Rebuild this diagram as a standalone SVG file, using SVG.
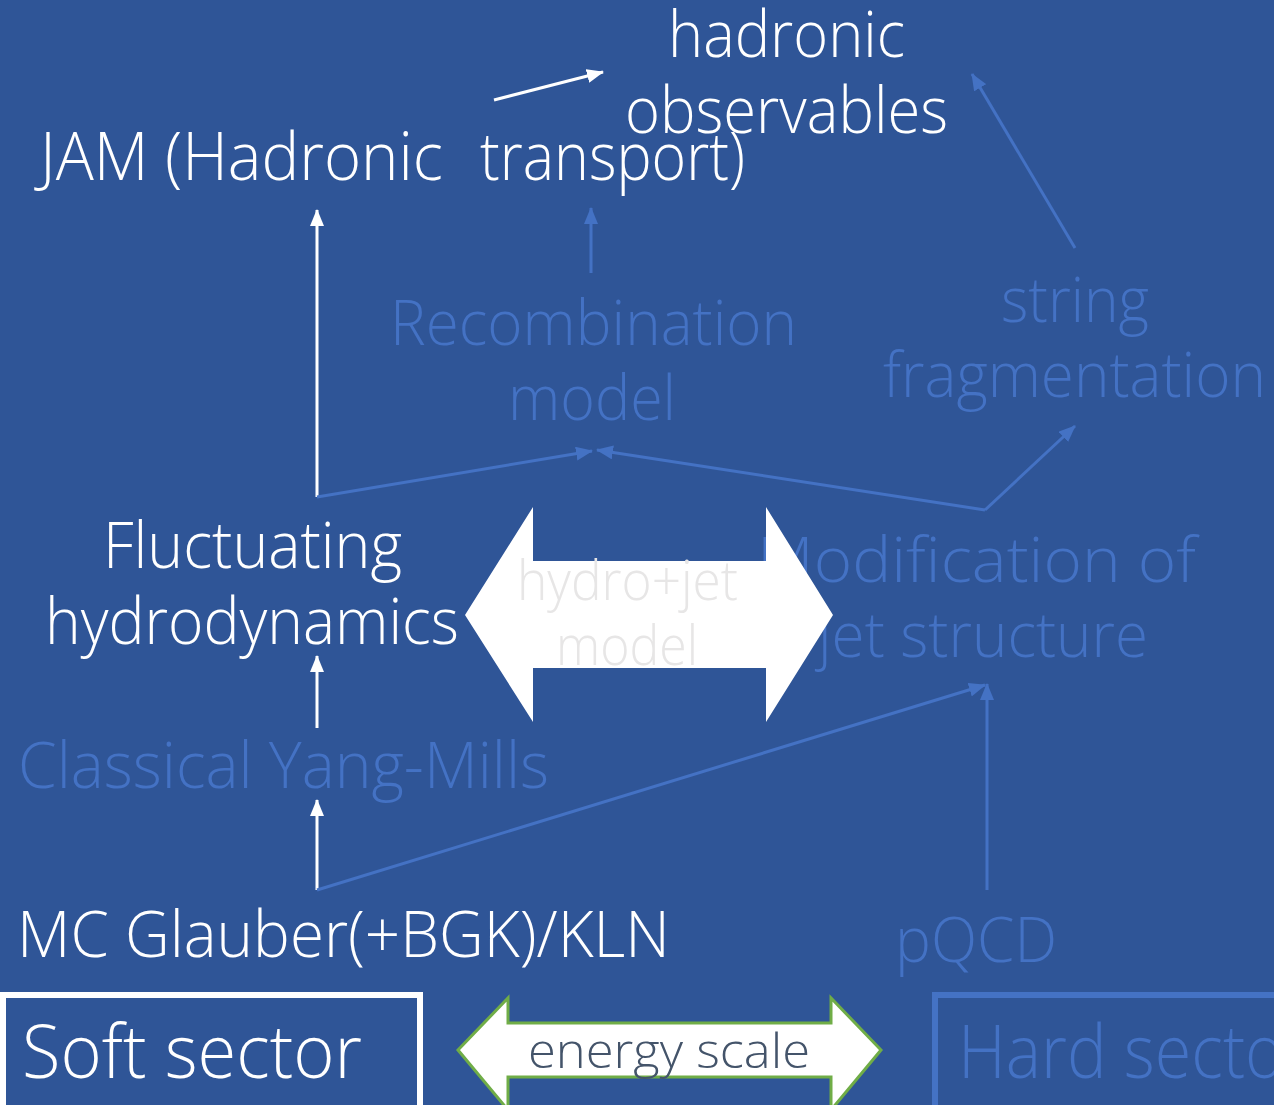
<svg xmlns="http://www.w3.org/2000/svg" width="1274" height="1105" viewBox="0 0 1274 1105">
<style>
text{font-family:"Open Sans","Segoe UI","Liberation Sans",sans-serif;font-weight:300;}
.w{fill:#FFFFFF;}
.b{fill:#4472C4;}
.cw{stroke:#FFFFFF;stroke-width:3;fill:none;}
.cb{stroke:#4472C4;stroke-width:3;fill:none;}
</style>
<defs>
<marker id="aw" markerUnits="userSpaceOnUse" markerWidth="18" markerHeight="14" refX="16" refY="7" orient="auto"><path d="M0,0 L17,7 L0,14 z" fill="#FFFFFF"/></marker>
<marker id="ab" markerUnits="userSpaceOnUse" markerWidth="18" markerHeight="14" refX="16" refY="7" orient="auto"><path d="M0,0 L17,7 L0,14 z" fill="#4472C4"/></marker>
</defs>
<rect x="0" y="0" width="1274" height="1105" fill="#2F5597"/>

<g id="hadronic-observables">
<text class="w" x="668" y="57" font-size="64" textLength="237" lengthAdjust="spacingAndGlyphs">hadronic</text>
<text class="w" x="625" y="133" font-size="64" textLength="323" lengthAdjust="spacingAndGlyphs">observables</text>
</g>
<g id="jam">
<text class="w" y="180" font-size="66"><tspan x="40" textLength="403" lengthAdjust="spacingAndGlyphs">JAM (Hadronic</tspan><tspan x="480" textLength="265" lengthAdjust="spacingAndGlyphs">transport)</tspan></text>
</g>
<g id="recombination">
<text class="b" x="390" y="345" font-size="62" textLength="407" lengthAdjust="spacingAndGlyphs">Recombination</text>
<text class="b" x="508" y="420" font-size="62" textLength="168" lengthAdjust="spacingAndGlyphs">model</text>
</g>
<g id="string-fragmentation">
<text class="b" x="1001" y="322" font-size="62" textLength="148" lengthAdjust="spacingAndGlyphs">string</text>
<text class="b" x="883" y="397" font-size="62" textLength="383" lengthAdjust="spacingAndGlyphs">fragmentation</text>
</g>
<g id="fluctuating-hydro">
<text class="w" x="103" y="568" font-size="64" textLength="299" lengthAdjust="spacingAndGlyphs">Fluctuating</text>
<text class="w" x="45" y="644" font-size="64" textLength="414" lengthAdjust="spacingAndGlyphs">hydrodynamics</text>
</g>
<g id="jet-modification">
<text class="b" x="757" y="582" font-size="62" textLength="439" lengthAdjust="spacingAndGlyphs">Modification of</text>
<text class="b" x="818" y="657" font-size="62" textLength="330" lengthAdjust="spacingAndGlyphs">jet structure</text>
</g>
<g id="hydro-jet-model">
<path d="M465,615 L533,507 L533,561 L766,561 L766,507 L833,615 L766,722 L766,668 L533,668 L533,722 Z" fill="#FFFFFF"/>
<text x="517" y="600" font-size="56" fill="#E7E6E6" textLength="221" lengthAdjust="spacingAndGlyphs">hydro+jet</text>
<text x="556" y="665" font-size="56" fill="#E7E6E6" textLength="142" lengthAdjust="spacingAndGlyphs">model</text>
</g>
<g id="classical-yang-mills">
<text class="b" x="18" y="788" font-size="64" textLength="531" lengthAdjust="spacingAndGlyphs">Classical Yang-Mills</text>
</g>
<g id="mc-glauber">
<text class="w" x="17" y="957" font-size="64" textLength="653" lengthAdjust="spacingAndGlyphs">MC Glauber(+BGK)/KLN</text>
</g>
<g id="pqcd">
<text class="b" x="895" y="962" font-size="62" textLength="162" lengthAdjust="spacingAndGlyphs">pQCD</text>
</g>
<g id="soft-sector">
<rect x="3" y="995" width="417" height="125" fill="none" stroke="#FFFFFF" stroke-width="6"/>
<text class="w" x="22" y="1078" font-size="74" textLength="340" lengthAdjust="spacingAndGlyphs">Soft sector</text>
</g>
<g id="hard-sector">
<rect x="935" y="995" width="400" height="125" fill="none" stroke="#4472C4" stroke-width="6"/>
<text class="b" x="958" y="1078" font-size="74" textLength="352" lengthAdjust="spacingAndGlyphs">Hard sector</text>
</g>
<g id="energy-scale">
<path d="M458,1050 L508,998 L508,1023 L831,1023 L831,998 L881,1050 L831,1110 L831,1077 L508,1077 L508,1110 Z" fill="#FFFFFF" stroke="#70AD47" stroke-width="3"/>
<text x="528" y="1068" font-size="48" fill="#44546A" textLength="282" lengthAdjust="spacingAndGlyphs">energy scale</text>
</g>

<g id="connectors">
<path class="cw" d="M317,497 L317,210" marker-end="url(#aw)"/>
<path class="cb" d="M317,497 L592,451" marker-end="url(#ab)"/>
<path class="cb" d="M985,510 L597,450" marker-end="url(#ab)"/>
<path class="cb" d="M985,510 L1075,426" marker-end="url(#ab)"/>
<path class="cb" d="M591,273 L591,208" marker-end="url(#ab)"/>
<path class="cb" d="M1075,248 L972,74" marker-end="url(#ab)"/>
<path class="cw" d="M494,100 L603,72" marker-end="url(#aw)"/>
<path class="cw" d="M317,728 L317,656" marker-end="url(#aw)"/>
<path class="cw" d="M317,890 L317,800" marker-end="url(#aw)"/>
<path class="cb" d="M317,890 L985,685" marker-end="url(#ab)"/>
<path class="cb" d="M987,890 L987,684" marker-end="url(#ab)"/>
</g>
</svg>
